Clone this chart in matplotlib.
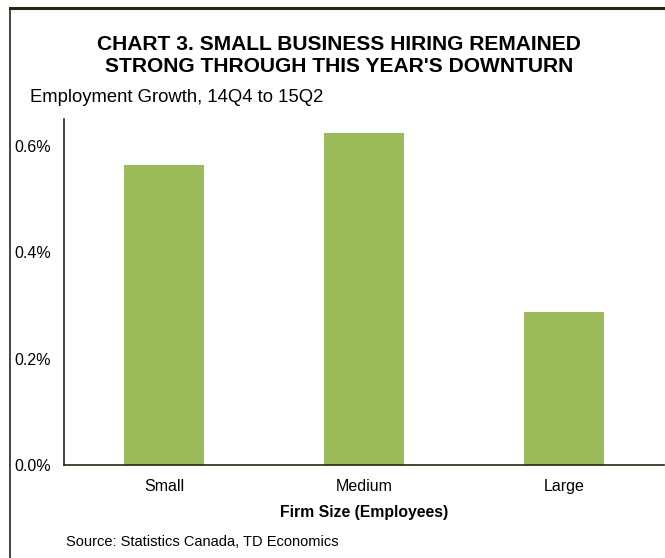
import matplotlib
matplotlib.use("Agg")
import matplotlib.pyplot as plt
from matplotlib.lines import Line2D

plt.rcParams['font.family'] = ['Liberation Sans', 'DejaVu Sans']

categories = ["Small", "Medium", "Large"]
growth = [0.563, 0.623, 0.287]
yticks = [0.0, 0.2, 0.4, 0.6]
ytick_labels = ["0.0%", "0.2%", "0.4%", "0.6%"]

W, H = 665, 558
fig = plt.figure(figsize=(W / 100, H / 100), dpi=100)

# outer frame (top and left edges visible)
fig.add_artist(Line2D([10 / W, 10 / W], [0, 1 - 8 / H], transform=fig.transFigure,
                      color="#1f2a12", lw=1.2))
fig.add_artist(Line2D([10 / W, 1], [1 - 8 / H, 1 - 8 / H], transform=fig.transFigure,
                      color="#1f2a12", lw=2.2))

ax = fig.add_axes([64 / W, 1 - 465 / H, 600 / W, (465 - 119) / H])
ax.bar(range(len(categories)), growth, width=0.4, color="#9BBB59")
ax.set_xlim(-0.5, 2.5)
ax.set_ylim(0, 0.65)
ax.set_yticks(yticks)
ax.set_yticklabels(ytick_labels, fontsize=11.5)
ax.set_xticks(range(len(categories)))
ax.set_xticklabels(categories, fontsize=11.5)
ax.tick_params(axis='both', length=0)
ax.tick_params(axis='y', pad=9.5)
ax.tick_params(axis='x', pad=10)
for s in ["top", "right"]:
    ax.spines[s].set_visible(False)
for s in ["left", "bottom"]:
    ax.spines[s].set_color("#1f2a12")
    ax.spines[s].set_linewidth(1.2)
ax.set_xlabel("Firm Size (Employees)", fontsize=11.3, fontweight="bold", labelpad=8)

fig.text(339 / W, 1 - 44 / H, "CHART 3. SMALL BUSINESS HIRING REMAINED",
         ha="center", va="center", fontsize=15.1, fontweight="bold")
fig.text(339 / W, 1 - 67 / H, "STRONG THROUGH THIS YEAR'S DOWNTURN",
         ha="center", va="center", fontsize=15.1, fontweight="bold")
fig.text(30 / W, 1 - 97 / H, "Employment Growth, 14Q4 to 15Q2", ha="left", va="center", fontsize=13.3)
fig.text(66 / W, 1 - 542 / H, "Source: Statistics Canada, TD Economics", ha="left", va="center", fontsize=10.5)

fig.savefig("out.png", dpi=100)
